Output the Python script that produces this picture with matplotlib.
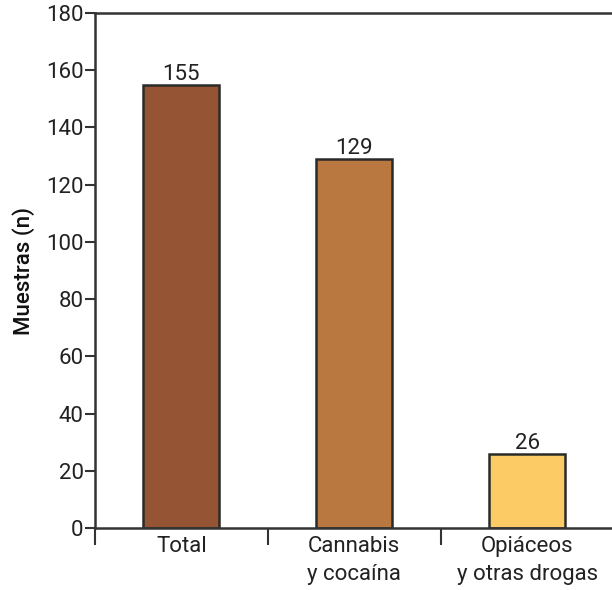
import numpy as np
import matplotlib.pyplot as plt

categorias = ["Total", "Cannabis\ny cocaína", "Opiáceos\ny otras drogas"]
muestras = [155, 129, 26]
colores = ["#955535", "#b87840", "#fccb65"]

plt.rcParams['font.family'] = ['Roboto', 'DejaVu Sans']

fig = plt.figure(figsize=(6.12, 5.9), dpi=100)
ax = fig.add_axes([0.155, 0.105, 0.848, 0.873])

x = np.arange(len(categorias))
bars = ax.bar(x, muestras, width=0.44, color=colores, edgecolor="#2a2a2a", linewidth=1.8)
for b, v in zip(bars, muestras):
    ax.text(b.get_x() + b.get_width() / 2, v, str(v), ha="center", va="bottom",
            fontsize=16, color="#222222")

ax.set_xlim(-0.5, 2.5)
ax.set_ylim(0, 180)
ax.set_yticks(np.arange(0, 181, 20))
ax.set_xticks(x)
ax.set_xticklabels(categorias, fontsize=16, color="#222222", linespacing=1.4)
ax.set_xticks([-0.5, 0.5, 1.5], minor=True)
ax.tick_params(axis="x", which="major", length=0, pad=6)
ax.tick_params(axis="x", which="minor", length=12, width=1.5, color="#333333")
ax.tick_params(axis="y", length=7, width=1.5, color="#333333", labelsize=16,
               labelcolor="#222222", pad=1)

for side in ["left", "top", "bottom"]:
    ax.spines[side].set_linewidth(1.8)
    ax.spines[side].set_color("#333333")
ax.spines["right"].set_visible(False)

ax.set_ylabel("Muestras (n)", fontsize=16, color="#111111", fontweight="medium", labelpad=8)

fig.savefig("out.png", dpi=100)
